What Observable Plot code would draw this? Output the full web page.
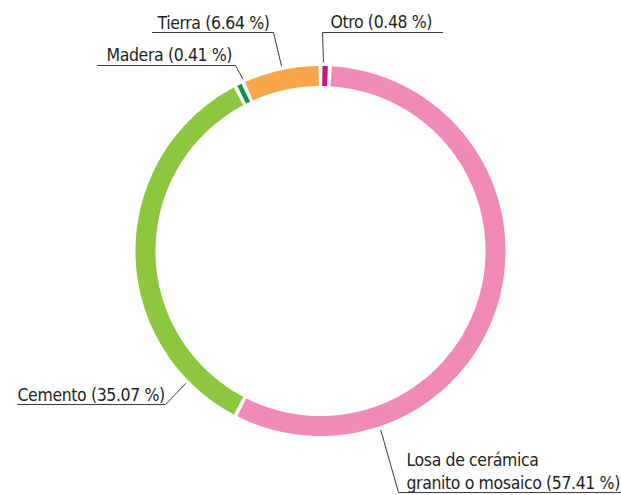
<!DOCTYPE html>
<html><head><meta charset="utf-8">
<script src="https://cdn.jsdelivr.net/npm/d3@7"></script>
<script src="https://cdn.jsdelivr.net/npm/@observablehq/plot@0.6"></script>
<style>body{margin:0;background:#fff} svg text{letter-spacing:-0.38px}</style>
</head><body><div id="chart"></div>
<script>
// ---- data ----
const categories = ["Otro", "Losa de cerámica granito o mosaico", "Cemento", "Madera", "Tierra"];
const labelText = ["Otro", "Losa de cerámica\ngranito o mosaico", "Cemento", "Madera", "Tierra"];
const values = [0.48, 57.41, 35.07, 0.41, 6.64];
const colors = ["#c8157d", "#f28ab7", "#8dc63f", "#0f9348", "#f9a64b"];

// ---- layout (positions only) ----
const W = 621, H = 495;
const cx = 320, cy = 250.5, rMid = 175, ringW = 20, padDeg = 1.2, rLead = 189;
const labelLayout = {
  "Otro": {deg: 0.9, elbow: [322, 32], end: 442, tx: 330, ty: 27},
  "Tierra": {deg: 348.1, elbow: [273, 32], end: 152, tx: 157, ty: 28},
  "Madera": {deg: 335.7, elbow: [235, 65], end: 97, tx: 106, ty: 60},
  "Cemento": {deg: 225.5, elbow: [165, 404], end: 17, tx: 17, ty: 400},
  "Losa de cerámica granito o mosaico": {deg: 161.4, elbow: [398, 492], end: 621, tx: 406, ty: 488}
};

const data = categories.map((c, i) => ({category: c, value: values[i], label: `${labelText[i]} (${values[i].toFixed(2)} %)`}));
const pa = padDeg * Math.PI / 180;
const arcs = d3.pie().sort(null).value(d => d.value).padAngle(pa)(data);
const polar = (a, r) => [cx + r * Math.sin(a), cy - r * Math.cos(a)];

const ringPts = arcs.flatMap(a => {
  const s = a.startAngle + pa / 2, e = a.endAngle - pa / 2;
  const n = Math.max(2, Math.ceil((e - s) / 0.01));
  return d3.range(n + 1).map(k => {
    const [x, y] = polar(s + (e - s) * k / n, rMid);
    return {category: a.data.category, x, y};
  });
});

const leaderPts = data.flatMap(d => {
  const L = labelLayout[d.category];
  const [ax, ay] = polar(L.deg * Math.PI / 180, rLead);
  return [
    {category: d.category, x: ax, y: ay},
    {category: d.category, x: L.elbow[0], y: L.elbow[1]},
    {category: d.category, x: L.end, y: L.elbow[1]}
  ];
});

const textPts = data.map(d => ({...d, x: labelLayout[d.category].tx, y: labelLayout[d.category].ty}));

const chart = Plot.plot({
  width: W, height: H,
  margin: 0,
  x: {domain: [0, W], range: [0, W], axis: null},
  y: {domain: [0, H], range: [0, H], axis: null},
  color: {domain: categories, range: colors},
  style: {fontFamily: "'DejaVu Sans Condensed', sans-serif", background: "#fff"},
  marks: [
    Plot.line(ringPts, {x: "x", y: "y", z: "category", stroke: "category", strokeWidth: ringW, strokeLinecap: "butt", strokeLinejoin: "round"}),
    Plot.line(leaderPts, {x: "x", y: "y", z: "category", stroke: "#3a3a3a", strokeWidth: 1}),
    Plot.text(textPts, {x: "x", y: "y", text: "label", textAnchor: "start", lineAnchor: "bottom", fontSize: 17.5, lineHeight: 1.3, fill: "#231f20"})
  ]
});
document.getElementById("chart").appendChild(chart);
</script>
</body></html>
